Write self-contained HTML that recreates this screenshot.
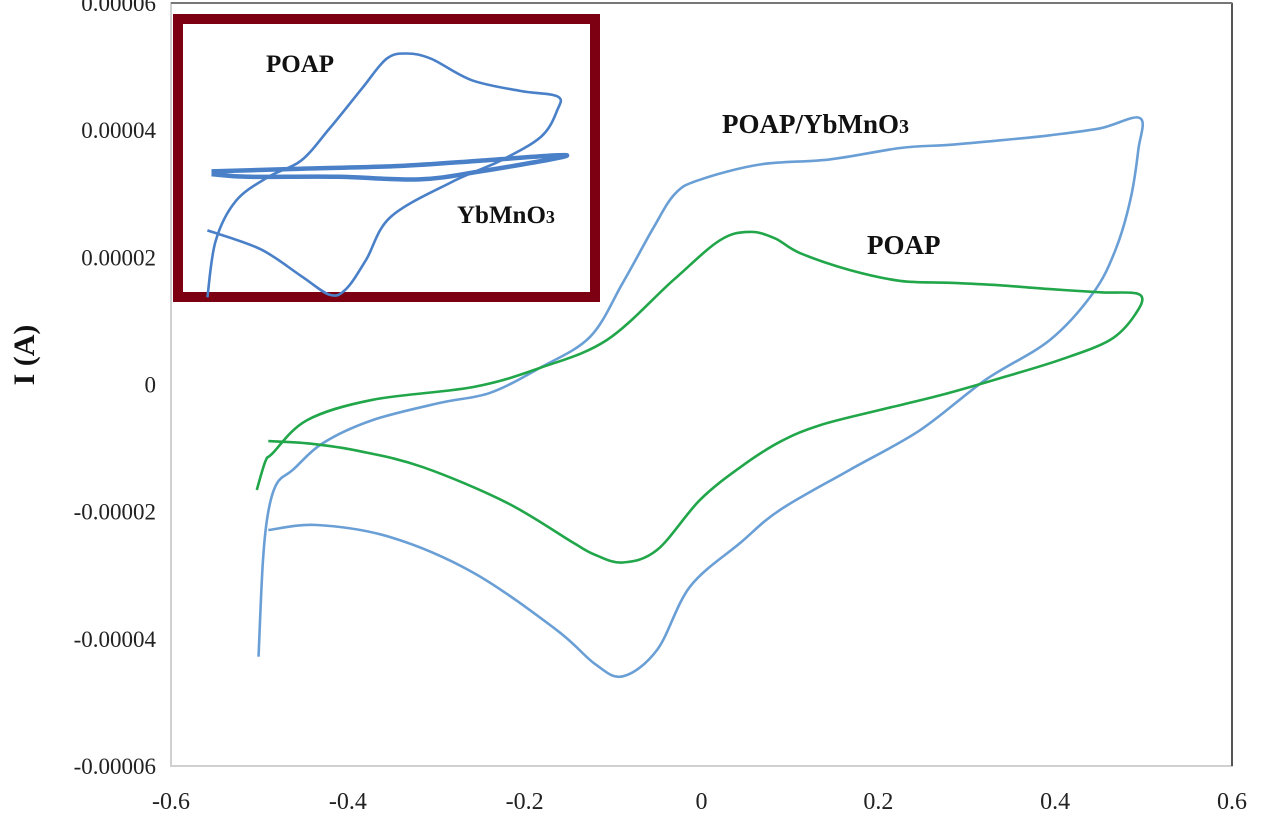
<!DOCTYPE html>
<html><head><meta charset="utf-8"><style>
html,body{margin:0;padding:0;background:#fff;}
svg{display:block;font-family:"Liberation Serif",serif;}
</style></head><body>
<svg id="chart" width="1267" height="815" viewBox="0 0 1267 815">
<g id="axes"></g>
<g id="series"></g>
<g id="inset"></g>
</svg>
<script>
const NS="http://www.w3.org/2000/svg";
// main chart data: potential (V), current (µA)
const xTicks=[-0.6,-0.4,-0.2,0,0.2,0.4,0.6];
const xTickLabels=["-0.6","-0.4","-0.2","0","0.2","0.4","0.6"];
const yTicks=[60,40,20,0,-20,-40,-60];
const yTickLabels=["0.00006","0.00004","0.00002","0","-0.00002","-0.00004","-0.00006"];
const compV=[-0.501,-0.496,-0.490,-0.480,-0.462,-0.428,-0.372,-0.296,-0.239,-0.183,-0.126,-0.089,-0.055,-0.030,-0.002,0.066,0.145,0.225,0.281,0.338,0.394,0.451,0.496,0.494,0.485,0.468,0.443,0.394,0.321,0.247,0.168,0.089,0.044,-0.013,-0.050,-0.089,-0.120,-0.164,-0.258,-0.352,-0.435,-0.490];
const compI=[-42.8,-27.6,-20.0,-15.5,-13.4,-9.2,-5.6,-2.9,-1.3,2.6,7.5,16.0,24.5,30.0,32.2,34.6,35.4,37.2,37.7,38.4,39.2,40.3,41.9,36.9,29.0,21.1,14.4,7.0,0.7,-7.2,-13.4,-19.7,-24.9,-31.8,-41.7,-45.9,-44.0,-38.6,-29.6,-24.0,-22.1,-22.9];
const poapV=[-0.503,-0.493,-0.485,-0.446,-0.372,-0.258,-0.183,-0.107,-0.032,0.021,0.055,0.083,0.111,0.168,0.225,0.281,0.338,0.394,0.451,0.496,0.490,0.462,0.406,0.338,0.270,0.202,0.134,0.089,0.044,-0.002,-0.050,-0.089,-0.120,-0.145,-0.220,-0.315,-0.386,-0.443,-0.490];
const poapI=[-16.6,-12.0,-10.8,-5.6,-2.4,-0.4,2.6,7.0,16.4,22.7,24.0,23.0,20.7,18.0,16.3,16.0,15.6,15.0,14.5,14.1,10.9,7.0,3.9,1.0,-1.7,-4.0,-6.4,-9.0,-13.0,-18.2,-26.0,-28.0,-26.8,-24.9,-18.6,-13.0,-10.5,-9.3,-8.9];
// inset data (relative units 0..100)
const inPoapX=[6,8,13,21,29,36,44,50,55,61,71,83,92,92,88,78,66,51,45,40,36,29,19,6];
const inPoapY=[-2,19,34,43,49,61,76,87,89,87,79,75,73,68,58,49,41,28,12,1,-1,6,16,23];
const inYbX=[7,29,53,73,92,92,73,58,38,16,7];
const inYbY=[45,46,47,49,51,50,45,42,43,43,44];

const X0=171,X1=1232,Y0=766,Y1=3;
const sx=v=>X0+(v+0.6)/1.2*(X1-X0);
const sy=v=>Y0-(v+60)/120*(Y0-Y1);
const IX0=183,IX1=590,IY0=292,IY1=24;
const ix=v=>IX0+v/100*(IX1-IX0);
const iy=v=>IY0-v/100*(IY0-IY1);

function el(tag,attrs,parent){const e=document.createElementNS(NS,tag);for(const k in attrs)e.setAttribute(k,attrs[k]);parent.appendChild(e);return e;}
function smooth(pts){let d=`M${pts[0][0]},${pts[0][1]}`;for(let i=0;i<pts.length-1;i++){const p0=pts[Math.max(0,i-1)],p1=pts[i],p2=pts[i+1],p3=pts[Math.min(pts.length-1,i+2)];const c1=[p1[0]+(p2[0]-p0[0])/6,p1[1]+(p2[1]-p0[1])/6],c2=[p2[0]-(p3[0]-p1[0])/6,p2[1]-(p3[1]-p1[1])/6];d+=` C${c1[0].toFixed(1)},${c1[1].toFixed(1)} ${c2[0].toFixed(1)},${c2[1].toFixed(1)} ${p2[0].toFixed(1)},${p2[1].toFixed(1)}`;}return d;}

const axes=document.getElementById('axes');
const frame=el('rect',{x:X0,y:Y1,width:X1-X0,height:Y0-Y1,fill:'none',stroke:'#d0d0d0','stroke-width':2},axes);

const rl=el('line',{x1:X1,y1:Y1,x2:X1,y2:Y0,stroke:'#555','stroke-width':2},axes);

const tl=el('line',{x1:X0,y1:Y1,x2:X1,y2:Y1,stroke:'#777','stroke-width':2},axes);

xTicks.forEach((v,i)=>{const t=el('text',{x:sx(v),y:809,'font-size':24,'text-anchor':'middle',fill:'#222'},axes);t.textContent=xTickLabels[i];
});
yTicks.forEach((v,i)=>{const t=el('text',{x:156,y:sy(v)+8,'font-size':23,'text-anchor':'end',fill:'#222'},axes);t.textContent=yTickLabels[i];
});
const yt=el('text',{x:0,y:0,'font-size':30,'font-weight':'bold','text-anchor':'middle',transform:'translate(34,355) rotate(-90)',fill:'#111'},axes);yt.textContent='I (A)';


const ser=document.getElementById('series');
const p1=el('path',{d:smooth(compV.map((v,i)=>[sx(v),sy(compI[i])])),fill:'none',stroke:'#6a9fd6','stroke-width':2.6,'stroke-linejoin':'round'},ser);

const p2=el('path',{d:smooth(poapV.map((v,i)=>[sx(v),sy(poapI[i])])),fill:'none',stroke:'#21a64a','stroke-width':2.6,'stroke-linejoin':'round'},ser);

const l1=el('text',{x:722,y:133,'font-size':27,'font-weight':'bold',fill:'#111'},ser);l1.innerHTML='POAP/YbMnO<tspan font-size="20">3</tspan>';

const l2=el('text',{x:867,y:254,'font-size':27,'font-weight':'bold',fill:'#111'},ser);l2.textContent='POAP';


const ins=document.getElementById('inset');
const ib=el('rect',{x:178,y:19,width:417,height:278,fill:'#fff',stroke:'#7d0012','stroke-width':10},ins);

const ip=el('path',{d:smooth(inPoapX.map((v,i)=>[ix(v),iy(inPoapY[i])])),fill:'none',stroke:'#4a80c8','stroke-width':2.6},ins);

const iyb=el('path',{d:smooth(inYbX.map((v,i)=>[ix(v),iy(inYbY[i])])),fill:'none',stroke:'#4a80c8','stroke-width':4.5},ins);

const il1=el('text',{x:266,y:72,'font-size':25,'font-weight':'bold',fill:'#111'},ins);il1.textContent='POAP';

const il2=el('text',{x:457,y:223,'font-size':25,'font-weight':'bold',fill:'#111'},ins);il2.innerHTML='YbMnO<tspan font-size="18">3</tspan>';

</script>
</body></html>
